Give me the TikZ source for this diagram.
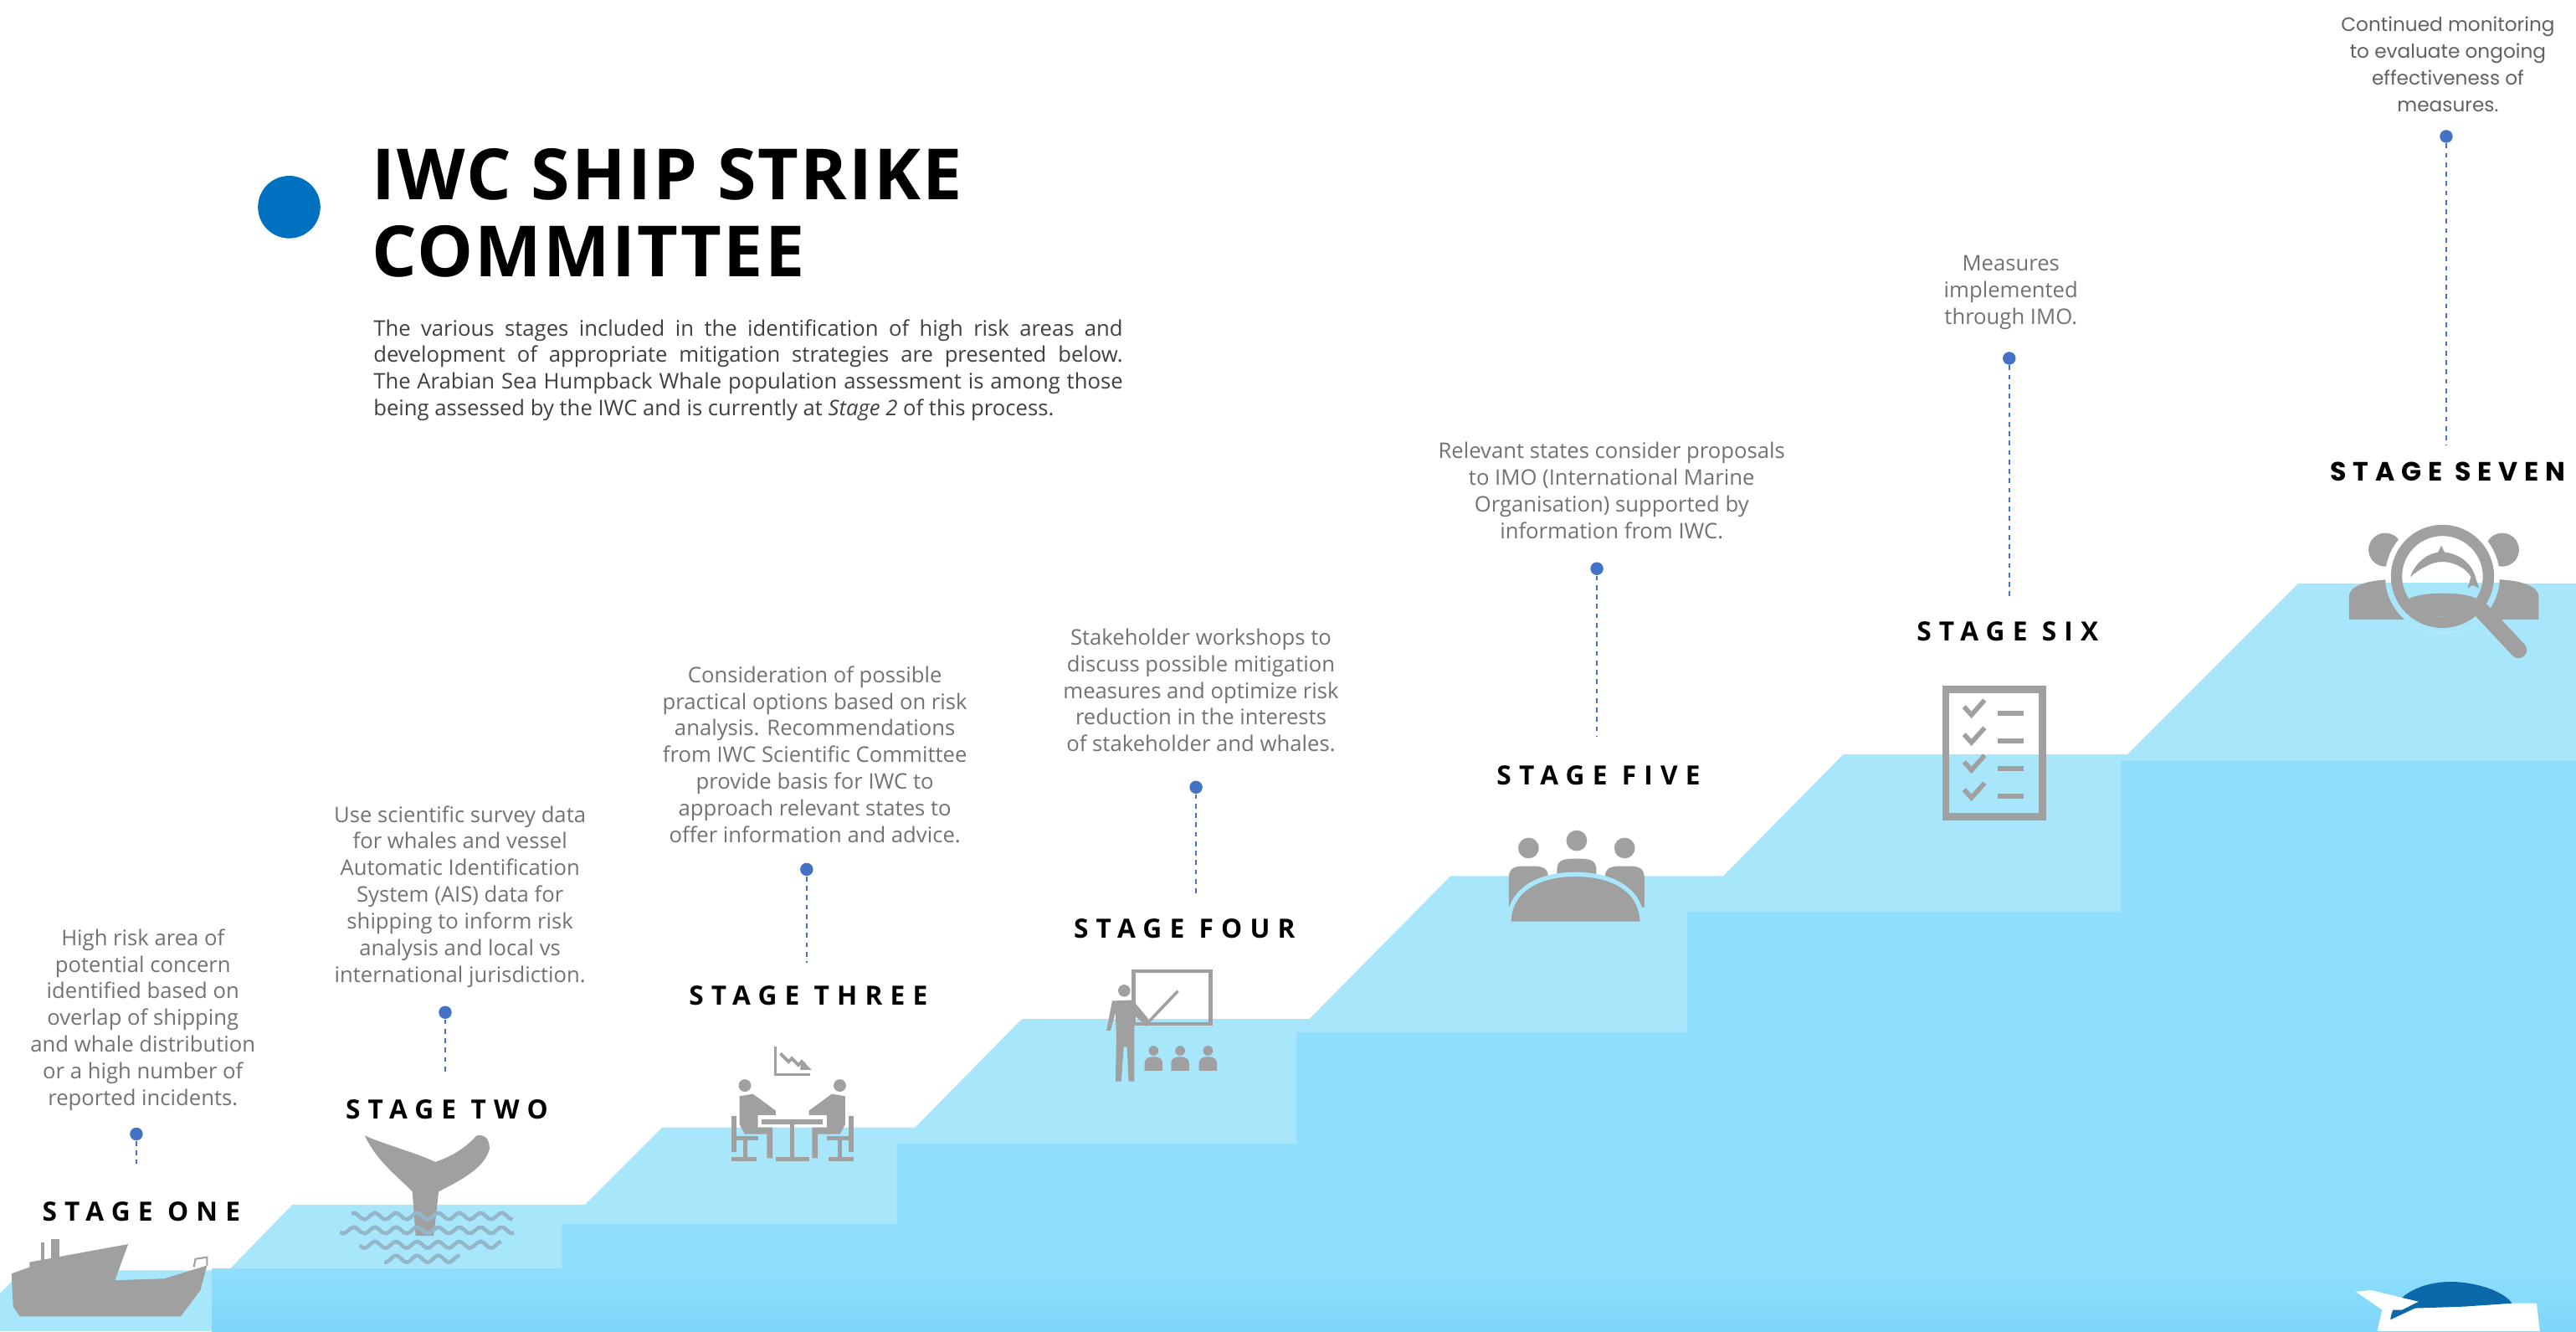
\documentclass[tikz,border=0pt]{standalone}
\usepackage{fontspec}
\setmainfont{Open Sans}
\newfontfamily\titlefont[LetterSpace=2.5]{Open Sans}
\newfontfamily\stagefont[LetterSpace=29]{Open Sans}
\newfontfamily\geofont{Poppins}
\newfontfamily\geostage[LetterSpace=25]{Poppins}

\definecolor{seaLight}{HTML}{A8E6FC}
\definecolor{seaMid}{HTML}{8FDEFC}
\definecolor{seaDeep}{HTML}{7ED6FA}
\definecolor{icongrey}{HTML}{A0A0A0}
\definecolor{wavegrey}{HTML}{93B6C8}
\definecolor{dotblue}{HTML}{4472C4}
\definecolor{titleblue}{HTML}{0070C0}
\definecolor{whaleblue}{HTML}{0B69AA}
\definecolor{textgrey}{HTML}{727272}
\definecolor{paragrey}{HTML}{404040}

\tikzstyle{desc}=[align=center, text=textgrey, inner sep=0pt, font=\fontsize{7.3}{9.05}\selectfont]
\tikzstyle{dot}=[circle, fill=dotblue, inner sep=0pt, minimum size=4.4pt]
\tikzstyle{lead}=[dotblue, line width=0.45pt, dash pattern=on 1.6pt off 1.6pt]
\tikzstyle{stagelbl}=[inner sep=0pt, font=\stagefont\bfseries\fontsize{9}{10}\selectfont]

\begin{document}
\begin{tikzpicture}[x=0.01963cm, y=-0.01963cm]
\useasboundingbox (0,0) rectangle (1568,810);

% the rising sea steps
\fill[seaLight] (0,787) -- (14,773) -- (139,773) -- (178,733) -- (356,733) -- (403,686) -- (557,686) -- (622,620) -- (797,620) -- (883,533) -- (1049,533) -- (1122,459) -- (1295,459) -- (1399,355) -- (1568,355) -- (1568,810) -- (0,810) -- cycle;
\fill[seaMid] (129,810) -- (129,781) -- (342,781) -- (342,745) -- (546,745) -- (546,696) -- (789,696) -- (789,628) -- (1027,628) -- (1027,555) -- (1291,555) -- (1291,463) -- (1568,463) -- (1568,810) -- cycle;
\shade[top color=seaMid, bottom color=seaDeep] (129,772) rectangle (1568,810);

% ship
\fill[icongrey] (7,775) -- (18,771) -- (18,768) -- (78,757) -- (70,779) -- (100,778) -- (126,770) -- (122,785) -- (110,801) -- (12,801) -- (8,795) -- cycle;
\fill[icongrey] (31,754) rectangle (36,768);
\draw[icongrey, line width=1pt] (26,756) -- (26,770);
\draw[icongrey, line width=0.6pt] (118,771) -- (119,766) -- (126,765) -- (126,770);

% whale tail in the waves
\fill[icongrey] (222,691) .. controls (229,706) and (242,716) .. (251,725) -- (253,752) -- (264,752) -- (267,725) .. controls (283,717) and (295,710) .. (298,699) .. controls (298,692) and (294,690) .. (290,691) .. controls (283,699) and (274,704) .. (265,707) .. controls (252,701) and (236,697) .. (222,691) -- cycle;
\foreach \wy/\wa/\wb in {740/214/312, 748.6/207/313, 757.4/219/305, 766/234/280}
  \draw[wavegrey, line width=1.3pt] plot[domain=\wa:\wb, samples=50] (\x, {\wy+2*sin(\x*28)});

% talking at a table
\draw[icongrey, line width=0.9pt] (472,637) -- (472,654) -- (493,654);
\draw[icongrey, line width=1.1pt] (475,641) -- (480,646) -- (482,644) -- (486,648) -- (488,646) -- (490,648);
\fill[icongrey] (488,645) -- (494,651) -- (487,651) -- cycle;
\fill[icongrey] (463.5,681) rectangle (501,684);
\fill[icongrey] (481,684) rectangle (483.6,704);
\fill[icongrey] (472,704) rectangle (492.5,706.5);
\foreach \s in {1,-1} {
  \begin{scope}[shift={(482.3,0)}, xscale=\s]
    \fill[icongrey] (-28.9,660.5) circle (3.8);
    \fill[icongrey] (-32.2,667) -- (-24,665.6) -- (-10.1,675.8) -- (-10.1,678.5) -- (-21,678.5) -- (-21,686) -- (-12,686) -- (-12,704.7) -- (-15.5,704.7) -- (-15.5,690) -- (-29,690) -- (-32.2,684) -- cycle;
    \fill[icongrey] (-37.3,679) rectangle (-34.2,701);
    \fill[icongrey] (-37.3,691.5) rectangle (-21,694);
    \fill[icongrey] (-30,694) rectangle (-27.5,704);
    \fill[icongrey] (-37.3,703.8) rectangle (-22,706.4);
  \end{scope}
}

% presenter
\draw[icongrey, line width=1.3pt] (690,591) rectangle (737,623);
\fill[icongrey] (684.3,602.8) circle (3.7);
\fill[icongrey] (677,609) -- (673.5,627) -- (676,627) -- (679,616) -- (679.5,632) -- (679,658) -- (682.5,658) -- (684,637) -- (686,637) -- (687,658) -- (690.5,658) -- (690.5,618) -- (697,623.5) -- (699,620) -- (689.5,608.5) -- cycle;
\draw[icongrey, line width=1pt] (697,624) -- (717,603);
\foreach \ax in {702.2,718.3,735.3} {
  \fill[icongrey] (\ax,639.3) circle (3);
  \fill[icongrey] (\ax-5.5,651.5) -- (\ax-5.5,647) .. controls (\ax-5.5,644) and (\ax-3,643) .. (\ax,643) .. controls (\ax+3,643) and (\ax+5.5,644) .. (\ax+5.5,647) -- (\ax+5.5,651.5) -- cycle;
}

% meeting round a table
\foreach \bx/\by in {930.4/527, 959.7/522.5, 988.9/527} {
  \fill[icongrey] (\bx,\by-11) circle (6.3);
  \fill[icongrey] (\bx-12,552) -- (\bx-12,\by+7) .. controls (\bx-12,\by) and (\bx-7,\by) .. (\bx,\by) .. controls (\bx+7,\by) and (\bx+12,\by) .. (\bx+12,\by+7) -- (\bx+12,552) -- cycle;
}
\fill[icongrey, draw=seaLight, line width=1.5pt] (918.4,562) .. controls (918.4,541) and (937,532) .. (959,532) .. controls (981,532) and (999.6,541) .. (999.6,562) -- cycle;

% checklist
\draw[icongrey, line width=2.4pt] (1184.4,419.5) rectangle (1243.3,497);
\foreach \cy in {434,450.8,467.6,484.4} {
  \draw[icongrey, line width=1.6pt] (1195.5,\cy-4) -- (1200,\cy+1) -- (1208,\cy-8);
  \draw[icongrey, line width=1.8pt] (1216,\cy) -- (1232,\cy);
}

% monitoring: people under a magnifier
\foreach \s in {1,-1} {
  \begin{scope}[shift={(1487.5,0)}, xscale=\s]
    \fill[icongrey] (-35.6,334.5) circle (10.2);
    \fill[icongrey] (-57.7,377) -- (-57.7,363) .. controls (-57.5,355) and (-42,352.4) .. (-27,352.4) -- (-17,352.4) -- (-17,377) -- cycle;
  \end{scope}
}
\fill[white] (1486.7,350.7) circle (34.8);
\begin{scope}
  \clip (1400,355) rectangle (1568,420);
  \fill[seaLight] (1486.7,350.7) circle (34.8);
\end{scope}
\begin{scope}
  \clip (1486.7,350.7) circle (24.6);
  \fill[icongrey] (1463,385) -- (1463,368) .. controls (1465,362) and (1478,361) .. (1487,361) .. controls (1496,361) and (1509,362) .. (1511,368) -- (1511,385) -- cycle;
  \fill[icongrey] (1467,351) .. controls (1471,341) and (1478,337) .. (1484,336) -- (1486,332) -- (1488,336) .. controls (1497,337) and (1505,343) .. (1507,352) -- (1509,358) -- (1505,356) -- (1502,358) -- (1504,351) .. controls (1500,344) and (1490,341) .. (1484,342) .. controls (1478,343) and (1472,347) .. (1467,351) -- cycle;
\end{scope}
\draw[icongrey, line width=3.8pt] (1486.7,350.7) circle (28);
\draw[icongrey, line width=3pt] (1505,367) -- (1513,375);
\draw[icongrey, line width=5.6pt, line cap=round] (1511,372) -- (1533,395.5);

% whale at the bottom
\fill[white] (1447,810) -- (1450,797) -- (1434,786) -- (1444,786) -- (1458,792) -- (1490,794) -- (1528,793) -- (1544,793) -- (1546,810) -- cycle;
\fill[whaleblue] (1455,803) .. controls (1457,786) and (1478,779) .. (1495,780) .. controls (1510,781) and (1524,786) .. (1529,793) -- (1500,795) -- (1470,796) -- cycle;
\fill[white] (1434,786) -- (1443,785) -- (1472,792) -- (1462,797) -- (1452,797) -- cycle;

% heading
\fill[titleblue] (176,126) circle (19);
\node[anchor=north west, align=left, inner sep=0pt, font=\titlefont\bfseries\fontsize{24}{26.3}\selectfont] (title) at (226,90) {IWC SHIP STRIKE\\COMMITTEE};
\node[anchor=north west, text width=8.95cm, align=justify, inner sep=0pt, text=paragrey, font=\fontsize{7.3}{9.05}\selectfont] (intro) at (227,194) {The various stages included in the identification of high risk areas and\linebreak development of appropriate mitigation strategies are presented below.\linebreak The Arabian Sea Humpback Whale population assessment is among those\linebreak being assessed by the IWC and is currently at \textit{Stage 2} of this process.};

% stages
\node[desc] (t1) at (87,620.5) {High risk area of\\potential concern\\identified based on\\overlap of shipping\\and whale distribution\\or a high number of\\reported incidents.};
\node[desc] (t2) at (280,545.5) {Use scientific survey data\\for whales and vessel\\Automatic Identification\\System (AIS) data for\\shipping to inform risk\\analysis and local vs\\international jurisdiction.};
\node[desc] (t3) at (496,459) {Consideration of possible\\practical options based on risk\\analysis. Recommendations\\from IWC Scientific Committee\\provide basis for IWC to\\approach relevant states to\\offer information and advice.};
\node[desc] (t4) at (731,420) {Stakeholder workshops to\\discuss possible mitigation\\measures and optimize risk\\reduction in the interests\\of stakeholder and whales.};
\node[desc] (t5) at (981,298.5) {Relevant states consider proposals\\to IMO (International Marine\\Organisation) supported by\\information from IWC.};
\node[desc] (t6) at (1224,178) {Measures\\implemented\\through IMO.};
\node[desc, text=textgrey!85!black, font=\geofont\fontsize{6.6}{9.05}\selectfont] (t7) at (1490,39) {Continued monitoring\\to evaluate ongoing\\effectiveness of\\measures.};

\node[dot] (d1) at (83,690) {};
\node[dot] (d2) at (271,616) {};
\node[dot] (d3) at (491,529) {};
\node[dot] (d4) at (728,479) {};
\node[dot] (d5) at (972,346) {};
\node[dot] (d6) at (1223,218) {};
\node[dot] (d7) at (1489,83) {};
\coordinate (e1) at (83,708);
\coordinate (e2) at (271,652);
\coordinate (e3) at (491,586);
\coordinate (e4) at (728,545);
\coordinate (e5) at (972,448);
\coordinate (e6) at (1223,364);
\coordinate (e7) at (1489,271);
\foreach \i in {1,...,7}
  \draw[lead] (d\i) -- (e\i);

\node[stagelbl] (s1) at (86,737) {STAGE ONE};
\node[stagelbl] (s2) at (272,675) {STAGE TWO};
\node[stagelbl] (s3) at (492,606) {STAGE THREE};
\node[stagelbl] (s4) at (721,565) {STAGE FOUR};
\node[stagelbl] (s5) at (973,472) {STAGE FIVE};
\node[stagelbl] (s6) at (1222,384) {STAGE SIX};
\node[stagelbl, font=\geostage\bfseries\fontsize{9}{10}\selectfont] (s7) at (1490,287) {STAGE SEVEN};
\end{tikzpicture}
\end{document}
